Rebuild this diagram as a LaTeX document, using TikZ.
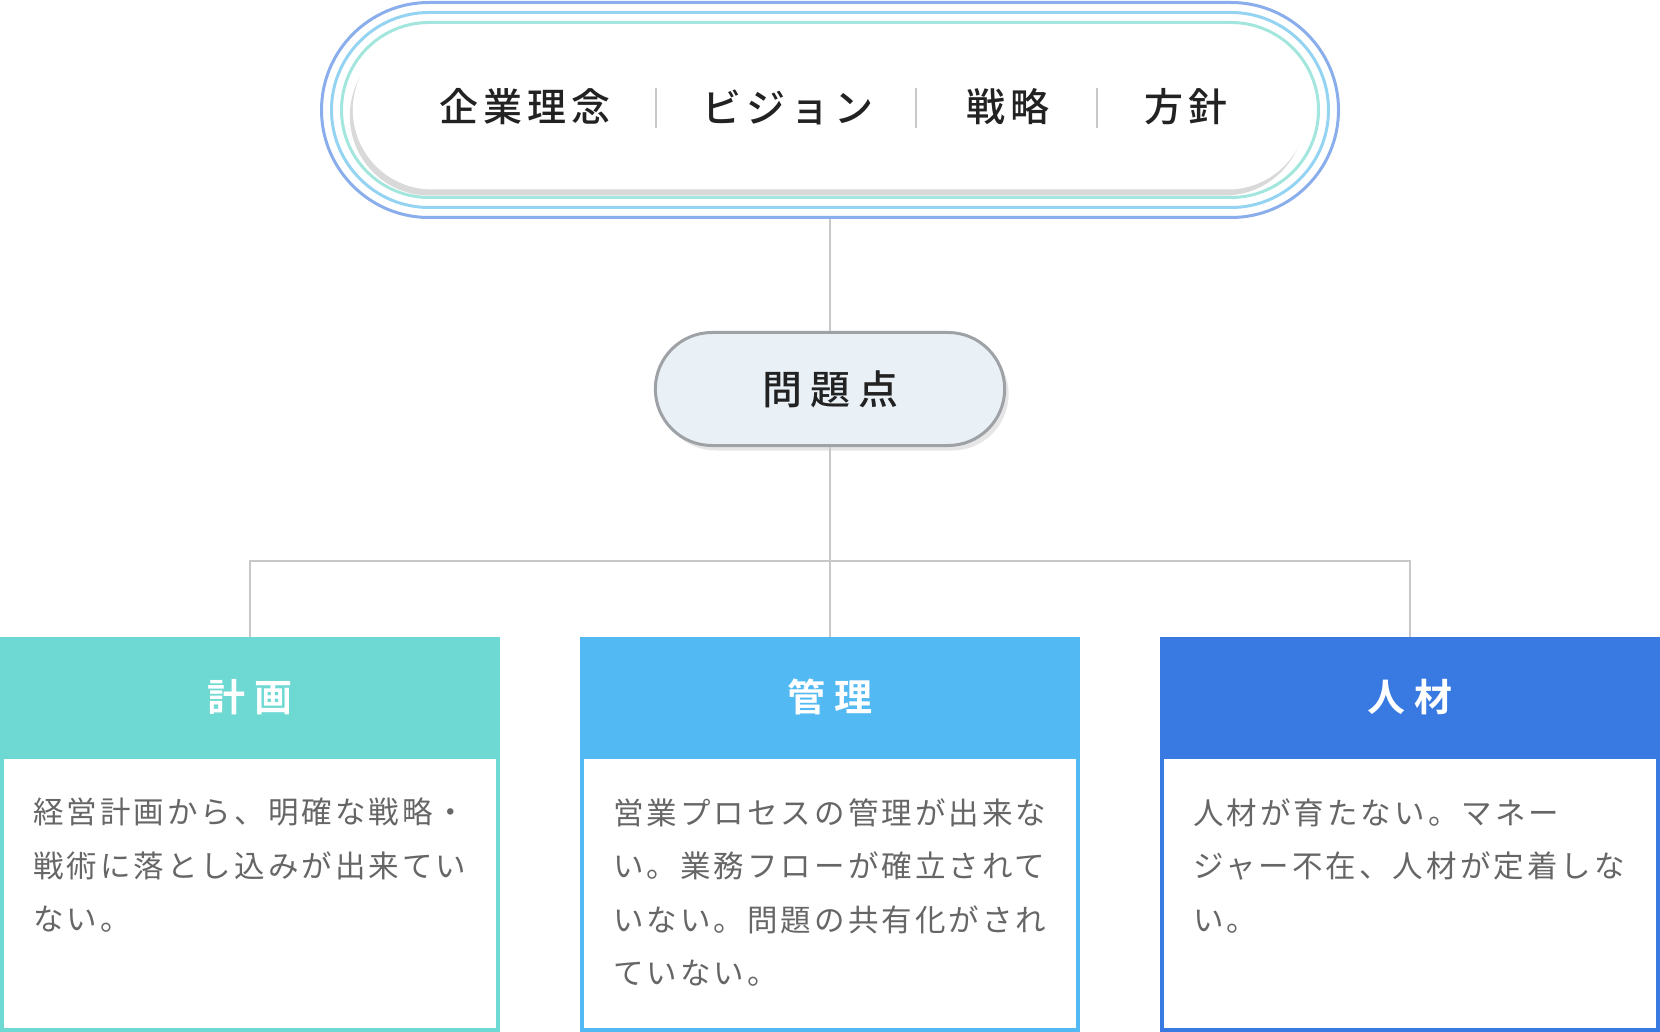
\documentclass[tikz,border=0pt]{standalone}
\usepackage{fontspec}
\setmainfont{Noto Sans CJK JP}
\newfontfamily\pillfont[LetterSpace=13]{Noto Sans CJK JP Medium}
\newfontfamily\issuefont[LetterSpace=20]{Noto Sans CJK JP Medium}
\newfontfamily\headfont[LetterSpace=26]{Noto Sans CJK JP Bold}
\newfontfamily\bodyfont[LetterSpace=10]{Noto Sans CJK JP}
\usetikzlibrary{positioning}
\usetikzlibrary{shapes.misc,shadows}
\definecolor{ringa}{HTML}{8AAEEC}
\definecolor{ringb}{HTML}{94D4F2}
\definecolor{ringc}{HTML}{A3E6DE}
\definecolor{linegray}{HTML}{C8C8C8}
\definecolor{issuefill}{HTML}{E9F1F7}
\definecolor{issuedraw}{HTML}{9EA2A6}
\definecolor{plancol}{HTML}{6ED9D2}
\definecolor{mgmtcol}{HTML}{52B9F2}
\definecolor{hrcol}{HTML}{3879E2}
\definecolor{bodygray}{HTML}{666666}
\definecolor{inkgray}{HTML}{222222}
\tikzset{%
  ring/.style = {rounded rectangle,draw=#1,line width=3pt,inner sep=0pt},
  pilltext/.style = {text=inkgray,font=\pillfont\fontsize{39}{46}\selectfont},
  sep/.style = {draw=linegray,line width=2pt},
  conn/.style = {draw=linegray,line width=2pt},
  head/.style = {rectangle,fill=#1,text=white,outer sep=0pt,
        minimum width=500pt,minimum height=120pt,
        font=\headfont\fontsize{38}{46}\selectfont},
  body/.style = {rectangle,draw=#1,fill=white,line width=4pt,outer sep=0pt,
        minimum width=496pt,minimum height=273pt,below=0pt of #1head},
  bodytext/.style = {anchor=north west,inner sep=0pt,align=left,text=bodygray,
        font=\bodyfont\fontsize{30.5}{53.5}\selectfont}
}
\begin{document}
\begin{tikzpicture}[x=1pt,y=-1pt]
\useasboundingbox (0,0) rectangle (1660,1032);
% top pill with rings
\node[ring=ringa,minimum width=1017pt,minimum height=215pt] (ringouter) at (830,110) {};
\node[ring=ringb,minimum width=997pt,minimum height=195pt] (ringmid) at (830,110) {};
\node[ring=ringc,minimum width=977pt,minimum height=175pt] (ringinner) at (830,110) {};
\node[rounded rectangle,fill=white,minimum width=961pt,minimum height=159pt,
    drop shadow={shadow xshift=-3pt,shadow yshift=-6pt,opacity=.3}] (toppill) at (830,110) {};
\node[pilltext] (ideal) at (525,107) {企業理念};
\node[pilltext] (vision) at (788,107) {ビジョン};
\node[pilltext] (strategy) at (1008,107) {戦略};
\node[pilltext] (policy) at (1186,107) {方針};
\draw[sep] (656,88) -- (656,128);
\draw[sep] (916,88) -- (916,128);
\draw[sep] (1097,88) -- (1097,128);
% issue
\node[rounded rectangle,fill=issuefill,draw=issuedraw,line width=3pt,
    minimum width=356pt,minimum height=113pt,text=inkgray,
    font=\issuefont\fontsize{40}{48}\selectfont,
    drop shadow={shadow xshift=4pt,shadow yshift=-5pt,opacity=.2}] (issue) at (830,389) {問題点};
\draw[conn] (ringouter.south) -- (issue.north);
% branches
\coordinate (fork) at (830,561);
\node[head=plancol] (plancolhead) at (250,697) {計画};
\node[head=mgmtcol] (mgmtcolhead) at (830,697) {管理};
\node[head=hrcol] (hrcolhead) at (1410,697) {人材};
\node[body=plancol] (planbody) {};
\node[body=mgmtcol] (mgmtbody) {};
\node[body=hrcol] (hrbody) {};
\draw[conn] (issue.south) -- (fork);
\draw[conn] (fork) -| (plancolhead.north);
\draw[conn] (fork) -- (mgmtcolhead.north);
\draw[conn] (fork) -| (hrcolhead.north);
\node[bodytext,below right=41pt and 31pt of planbody.north west] (plantext)
    {経営計画から、明確な戦略・\\戦術に落とし込みが出来てい\\ない。};
\node[bodytext,below right=41pt and 31pt of mgmtbody.north west] (mgmttext)
    {営業プロセスの管理が出来な\\い。業務フローが確立されて\\いない。問題の共有化がされ\\ていない。};
\node[bodytext,below right=41pt and 31pt of hrbody.north west] (hrtext)
    {人材が育たない。マネー\\ジャー不在、人材が定着しな\\い。};
\end{tikzpicture}
\end{document}
